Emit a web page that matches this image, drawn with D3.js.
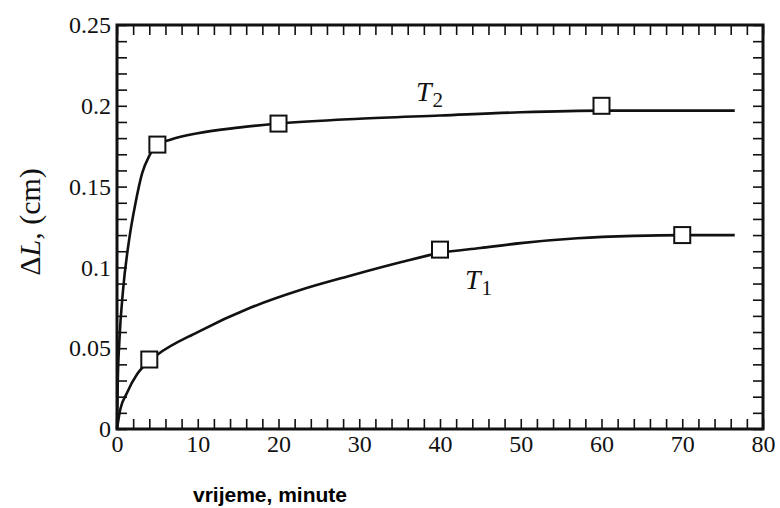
<!DOCTYPE html>
<html>
<head>
<meta charset="utf-8">
<script src="https://cdn.jsdelivr.net/npm/d3@7"></script>
<style>
  body { margin: 0; background: #fff; }
  svg { display: block; }
</style>
</head>
<body>
<svg id="chart" width="780" height="508"></svg>
<script>
// measured points (squares)
const t1Time = [4, 40, 70]
const t1Val = [0.043, 0.111, 0.120]
const t2Time = [5, 20, 60]
const t2Val = [0.176, 0.189, 0.2]

// fitted curves
const t1CurveTime = [0, 0.4, 1.2, 2.5, 4, 5, 10, 16.5, 22.7, 29, 35, 40, 45, 50, 57, 64, 70, 76.5]
const t1CurveVal = [0, 0.012, 0.022, 0.034, 0.042, 0.046, 0.060, 0.075, 0.086, 0.095, 0.103, 0.109, 0.112, 0.115, 0.118, 0.1195, 0.12, 0.12]
const t2CurveTime = [0, 0.1, 0.3, 0.75, 1.5, 2.3, 3.1, 4, 5, 6.6, 10, 15, 20, 30, 40, 50, 60, 70, 76.5]
const t2CurveVal = [0, 0.03, 0.055, 0.086, 0.117, 0.14, 0.158, 0.169, 0.176, 0.179, 0.183, 0.1865, 0.189, 0.192, 0.194, 0.196, 0.197, 0.197, 0.197]

const xTicks = d3.range(0, 81, 2)
const xLabels = [0, 10, 20, 30, 40, 50, 60, 70, 80]
const yTicks = d3.range(0, 26).map(d => d / 100)
const yLabels = [0, 0.05, 0.1, 0.15, 0.2, 0.25]

const svg = d3.select("#chart")

const x = d3.scaleLinear().domain([0, 80]).range([117, 763])
const y = d3.scaleLinear().domain([0, 0.25]).range([429, 25])

const serif = "Liberation Serif"
const isLabelX = v => xLabels.some(l => Math.abs(l - v) < 1e-9)
const isLabelY = v => yLabels.some(l => Math.abs(l - v) < 1e-9)

function styleAxis(g){
	g.attr("font-family", serif).attr("font-size", 24)
	g.select(".domain").remove()
	g.selectAll(".tick line").attr("stroke", "#111").attr("stroke-width", 1.6)
	g.selectAll(".tick text")
		.attr("fill", "#111")
		.style("font-family", serif)
		.style("font-size", "24px")
}

// bottom / left with labels
svg.append("g")
	.attr("transform", `translate(0,${y(0)})`)
	.call(d3.axisBottom(x).tickValues(xTicks).tickSize(-10).tickPadding(6)
		.tickFormat(d => isLabelX(d) ? d : ""))
	.call(styleAxis)

svg.append("g")
	.attr("transform", `translate(${x(0)},0)`)
	.call(d3.axisLeft(y).tickValues(yTicks).tickSize(-10).tickPadding(6)
		.tickFormat(d => isLabelY(d) ? d3.format("")(+d.toFixed(2)) : ""))
	.call(styleAxis)

// top / right, ticks only
svg.append("g")
	.attr("transform", `translate(0,${y(0.25)})`)
	.call(d3.axisTop(x).tickValues(xTicks).tickSize(-10).tickFormat(""))
	.call(styleAxis)

svg.append("g")
	.attr("transform", `translate(${x(80)},0)`)
	.call(d3.axisRight(y).tickValues(yTicks).tickSize(-10).tickFormat(""))
	.call(styleAxis)

// frame
svg.append("rect")
	.attr("x", x(0)).attr("y", y(0.25))
	.attr("width", x(80) - x(0)).attr("height", y(0) - y(0.25))
	.attr("fill", "none").attr("stroke", "#111").attr("stroke-width", 3)

const line = d3.line()
	.x(d => x(d[0]))
	.y(d => y(d[1]))
	.curve(d3.curveMonotoneX)

const curves = [
	d3.zip(t1CurveTime, t1CurveVal),
	d3.zip(t2CurveTime, t2CurveVal)
]

svg.append("g")
	.selectAll("path")
	.data(curves)
	.join("path")
	.attr("d", line)
	.attr("fill", "none")
	.attr("stroke", "#111")
	.attr("stroke-width", 2.6)
	.attr("stroke-linejoin", "round")

const pts = [...d3.zip(t1Time, t1Val), ...d3.zip(t2Time, t2Val)]
const sq = 16
svg.append("g")
	.selectAll("rect")
	.data(pts)
	.join("rect")
	.attr("x", d => x(d[0]) - sq / 2)
	.attr("y", d => y(d[1]) - sq / 2)
	.attr("width", sq)
	.attr("height", sq)
	.attr("fill", "#fff")
	.attr("stroke", "#111")
	.attr("stroke-width", 2)

// curve labels
function tLabel(xp, yp, sub){
	const t = svg.append("text")
		.attr("x", xp).attr("y", yp)
		.style("font-family", serif)
		.style("font-size", "28px")
		.attr("fill", "#111")
	t.append("tspan").style("font-style", "italic").text("T")
	t.append("tspan").style("font-size", "21px").attr("dy", 6).attr("dx", 1).text(sub)
}
tLabel(416, 101, "2")
tLabel(465, 289, "1")

// y axis title
const yt = svg.append("text")
	.attr("transform", "translate(40,222) rotate(-90)")
	.attr("text-anchor", "middle")
	.style("font-family", serif)
	.style("font-size", "30px")
	.attr("fill", "#111")
yt.append("tspan").text("Δ")
yt.append("tspan").style("font-style", "italic").text("L")
yt.append("tspan").text(", (cm)")

// x axis title
svg.append("text")
	.attr("x", 270).attr("y", 502)
	.attr("text-anchor", "middle")
	.style("font-family", "Liberation Sans")
	.style("font-weight", "bold")
	.style("font-size", "21px")
	.attr("fill", "#000")
	.text("vrijeme, minute")
</script>
</body>
</html>
